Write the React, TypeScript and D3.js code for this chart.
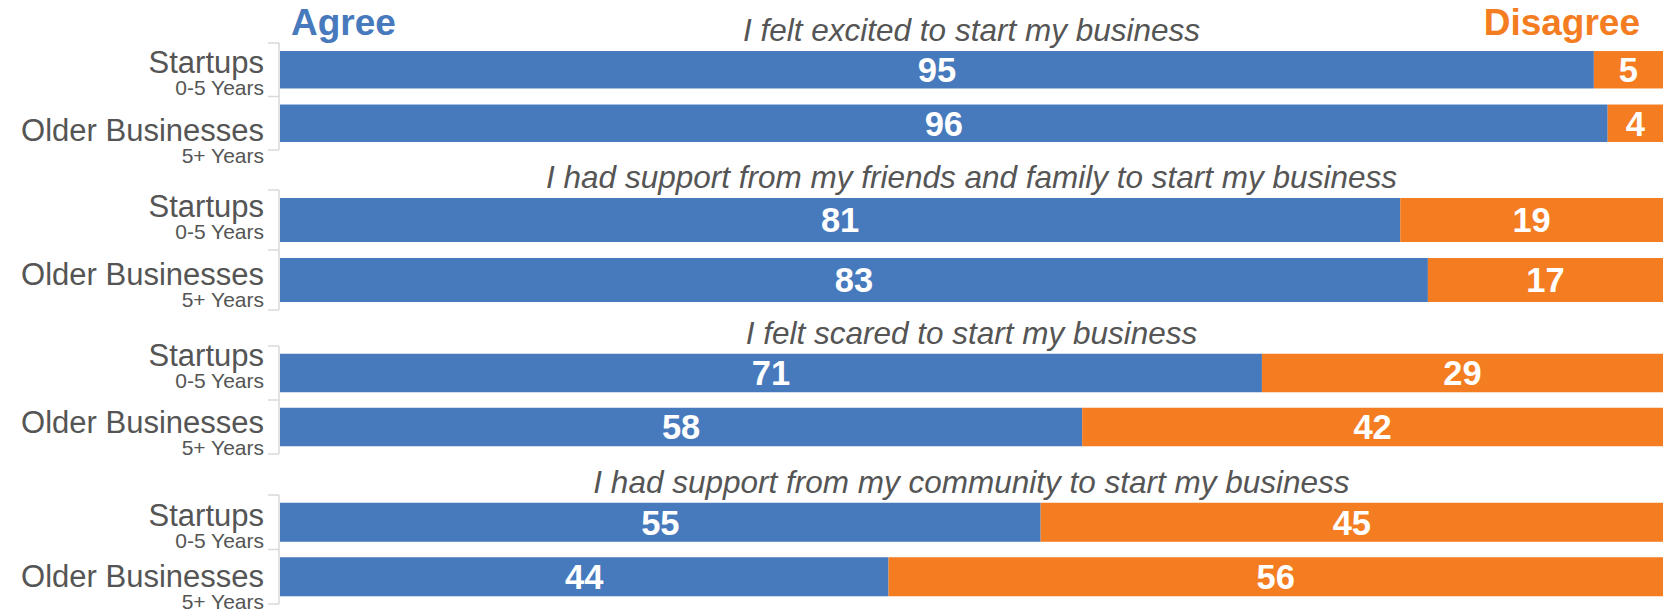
import React from "react";
import * as d3 from "d3";

const questions = [
  "I felt excited to start my business",
  "I had support from my friends and family to start my business",
  "I felt scared to start my business",
  "I had support from my community to start my business",
];
const groups = ["Startups", "Older Businesses"];
const groupSub = ["0-5 Years", "5+ Years"];
const agreeStartups = [95, 81, 71, 55];
const agreeOlder = [96, 83, 58, 44];
const disagreeStartups = [5, 19, 29, 45];
const disagreeOlder = [4, 17, 42, 56];

// layout (pixel geometry of each panel, not data)
const panelRanges: [number, number][] = [
  [43, 150],
  [190, 310],
  [346, 454],
  [495, 604],
];
const panelPadding = [0.3, 0.267, 0.287, 0.284];
const labelOffsets: [number, number][] = [
  [3.5, 18],
  [-3, 4.5],
  [-7, 5.5],
  [3.5, 10.5],
];

const W = 1669;
const H = 614;
const BLUE = "#4779bd";
const ORANGE = "#f47d22";
const GREY = "#555555";
const FONT = "'Liberation Sans', Arial, Helvetica, sans-serif";

export default function App() {
  const x = d3.scaleLinear().domain([0, 100]).range([280, 1663]);
  const axisX = 279;
  const labelX = 264;

  return (
    <svg
      width={W}
      height={H}
      style={{ position: "absolute", left: 0, top: 0, background: "#fff" }}
      fontFamily={FONT}
    >
      <text x={291} y={35} fontSize={37} fontWeight="bold" fill={BLUE}>
        Agree
      </text>
      <text x={1640} y={35} fontSize={37} fontWeight="bold" fill={ORANGE} textAnchor="end">
        Disagree
      </text>
      {questions.map((q, qi) => {
        const y = d3
          .scaleBand<string>()
          .domain(groups)
          .range(panelRanges[qi])
          .paddingInner(panelPadding[qi])
          .paddingOuter(panelPadding[qi] / 2);
        const agrees = [agreeStartups[qi], agreeOlder[qi]];
        const disagrees = [disagreeStartups[qi], disagreeOlder[qi]];
        const [r0, r1] = panelRanges[qi];
        const mid = (r0 + r1) / 2;
        return (
          <g key={qi}>
            <text
              x={(x(0) + x(100)) / 2}
              y={r0 - 2.5}
              fontSize={31.5}
              fontStyle="italic"
              fill={GREY}
              textAnchor="middle"
            >
              {q}
            </text>
            <g stroke="#d9d9d9" strokeWidth={1.5} fill="none">
              <line x1={axisX} x2={axisX} y1={r0} y2={r1} />
              {[r0, mid, r1].map((t, i) => (
                <line key={i} x1={axisX - 11} x2={axisX} y1={t} y2={t} />
              ))}
            </g>
            {groups.map((g, gi) => {
              const by = y(g)!;
              const bh = y.bandwidth();
              const cy = by + bh / 2;
              const a = agrees[gi];
              const d = disagrees[gi];
              const mainY = cy + labelOffsets[qi][gi];
              return (
                <g key={g}>
                  <rect x={x(0)} y={by} width={x(a) - x(0)} height={bh} fill={BLUE} />
                  <rect x={x(a)} y={by} width={x(a + d) - x(a)} height={bh} fill={ORANGE} />
                  <text
                    x={(x(0) + x(a)) / 2}
                    y={cy}
                    dy="0.36em"
                    fontSize={34.5}
                    fontWeight="bold"
                    fill="#fff"
                    textAnchor="middle"
                  >
                    {a}
                  </text>
                  <text
                    x={(x(a) + x(a + d)) / 2}
                    y={cy}
                    dy="0.36em"
                    fontSize={34.5}
                    fontWeight="bold"
                    fill="#fff"
                    textAnchor="middle"
                  >
                    {d}
                  </text>
                  <text x={labelX} y={mainY} fontSize={31} fill={GREY} textAnchor="end">
                    {g}
                  </text>
                  <text x={labelX} y={mainY + 22} fontSize={21} fill={GREY} textAnchor="end">
                    {groupSub[gi]}
                  </text>
                </g>
              );
            })}
          </g>
        );
      })}
    </svg>
  );
}
